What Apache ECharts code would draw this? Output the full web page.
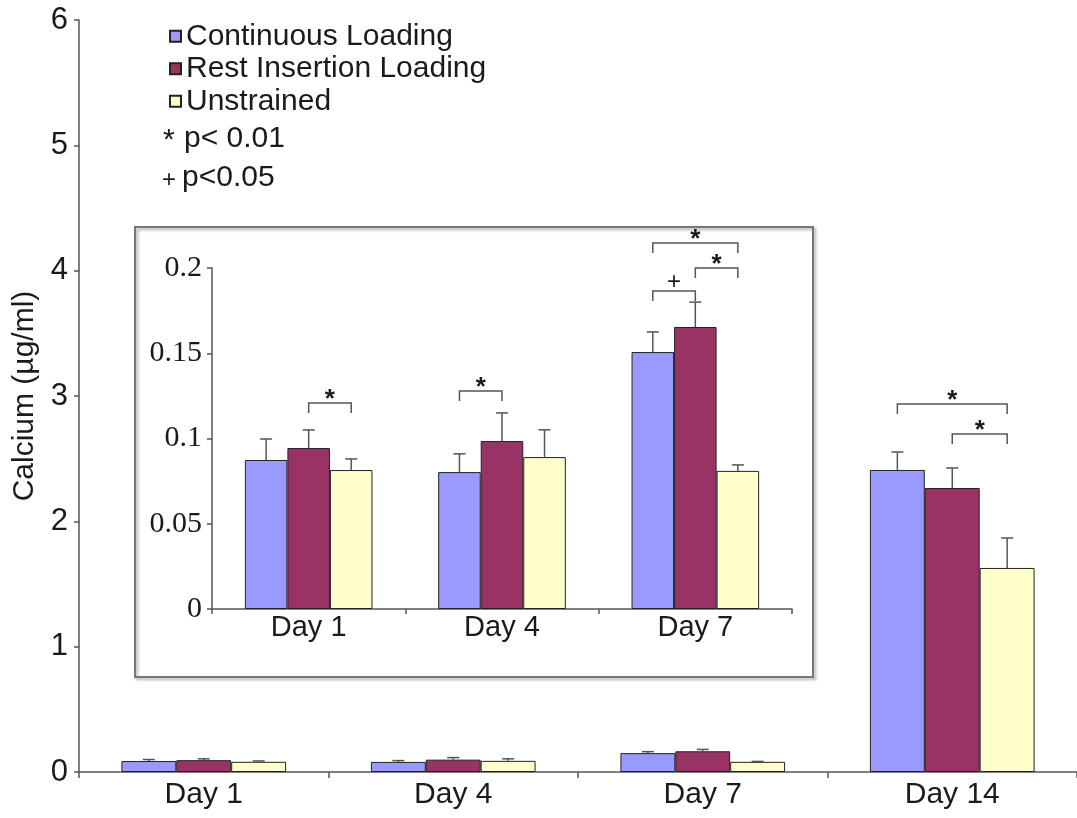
<!DOCTYPE html>
<html><head><meta charset="utf-8">
<script src="https://cdn.jsdelivr.net/npm/echarts@6/dist/echarts.min.js"></script>
<style>html,body{margin:0;padding:0;background:#fff}#c{width:1077px;height:818px}</style>
</head><body><div id="c"></div>
<script>
// ---- data ----
const categories = ['Day 1', 'Day 4', 'Day 7', 'Day 14'];
const insetCategories = ['Day 1', 'Day 4', 'Day 7'];
const seriesNames = ['Continuous Loading', 'Rest Insertion Loading', 'Unstrained'];
const continuousMean = [0.0874, 0.0803, 0.1507, 2.41];
const restMean       = [0.0944, 0.0985, 0.1654, 2.266];
const unstrainedMean = [0.0815, 0.0891, 0.0810, 1.628];
const continuousErr  = [0.0123, 0.0107, 0.0118, 0.143];
const restErr        = [0.0106, 0.0165, 0.0146, 0.160];
const unstrainedErr  = [0.0065, 0.0160, 0.0035, 0.239];
// significance brackets: [category, from series, to series, height]
const mainBrackets = [[3, 0, 2, 2.936], [3, 1, 2, 2.697]];
const mainBracketMarks = ['*', '*'];
const insetBrackets = [[0, 1, 2, 0.1208], [1, 0, 1, 0.1279], [2, 0, 2, 0.2147], [2, 1, 2, 0.2], [2, 0, 1, 0.1865]];
const insetBracketMarks = ['*', '*', '*', '*', '+'];
const legendNotes = ['p< 0.01', 'p<0.05'];
const legendNoteMarks = ['*', '+'];

// ---- chart ----
const means = [continuousMean, restMean, unstrainedMean];
const errs = [continuousErr, restErr, unstrainedErr];
const colors = ['#9999FF', '#993366', '#FFFFCC'];
const GAP = 0.34;
const FONT = 'Liberation Sans';
const txt = '#1a1a1a';
const axisCol = '#555';

function errData(n) {
  const d = [];
  for (let k = 0; k < 3; k++) for (let i = 0; i < n; i++) d.push([i, k, means[k][i], errs[k][i]]);
  return d;
}
function errRender(params, api) {
  const i = api.value(0), k = api.value(1), m = api.value(2), e = api.value(3);
  const bw = api.size([1, 0])[0] * (1 - GAP) / 3;
  const base = api.coord([i, m]);
  const top = api.coord([i, m + e]);
  const x = base[0] + (k - 1) * bw;
  const st = { stroke: axisCol, lineWidth: 1.5 };
  return { type: 'group', children: [
    { type: 'line', shape: { x1: x, y1: base[1], x2: x, y2: top[1] }, style: st },
    { type: 'line', shape: { x1: x - 6, y1: top[1], x2: x + 6, y2: top[1] }, style: st }
  ]};
}
function bracketRender(marks) {
  return function (params, api) {
    const i = api.value(0), k1 = api.value(1), k2 = api.value(2), y = api.value(3);
    const bw = api.size([1, 0])[0] * (1 - GAP) / 3;
    const p = api.coord([i, y]);
    const x1 = p[0] + (k1 - 1) * bw, x2 = p[0] + (k2 - 1) * bw;
    const drop = 10;
    const mark = marks[params.dataIndex];
    const isStar = mark === '*';
    return { type: 'group', children: [
      { type: 'polyline', shape: { points: [[x1, p[1] + drop], [x1, p[1]], [x2, p[1]], [x2, p[1] + drop]] },
        style: { stroke: axisCol, lineWidth: 1.5, fill: 'none' } },
      { type: 'text', x: (x1 + x2) / 2, y: p[1] - (isStar ? 3 : 9),
        style: { text: mark, fontSize: isStar ? 26 : 24, fontFamily: FONT, fontWeight: isStar ? 'bold' : 'normal',
                 fill: txt, align: 'center', verticalAlign: 'middle' } }
    ]};
  };
}

const series = [];
for (let k = 0; k < 3; k++) {
  series.push({ type: 'bar', name: seriesNames[k], xAxisIndex: 0, yAxisIndex: 0, data: means[k],
    barGap: '0%', barCategoryGap: (GAP * 100) + '%',
    itemStyle: { color: colors[k], borderColor: '#222', borderWidth: 1 } });
}
for (let k = 0; k < 3; k++) {
  series.push({ type: 'bar', name: seriesNames[k], xAxisIndex: 1, yAxisIndex: 1, data: means[k].slice(0, 3),
    barGap: '0%', barCategoryGap: (GAP * 100) + '%',
    itemStyle: { color: colors[k], borderColor: '#222', borderWidth: 1 } });
}
series.push({ type: 'custom', xAxisIndex: 0, yAxisIndex: 0, data: errData(4), renderItem: errRender, z: 3, silent: true });
series.push({ type: 'custom', xAxisIndex: 1, yAxisIndex: 1, data: errData(3), renderItem: errRender, z: 3, silent: true });
series.push({ type: 'custom', xAxisIndex: 0, yAxisIndex: 0, data: mainBrackets, renderItem: bracketRender(mainBracketMarks), z: 3, silent: true, clip: false });
series.push({ type: 'custom', xAxisIndex: 1, yAxisIndex: 1, data: insetBrackets, renderItem: bracketRender(insetBracketMarks), z: 3, silent: true, clip: false });

const graphic = [
  { type: 'rect', shape: { x: 135, y: 227, width: 678, height: 450 }, silent: true, z: -1,
    style: { fill: 'none', stroke: '#777', lineWidth: 2, shadowBlur: 3, shadowOffsetX: 2, shadowOffsetY: 2, shadowColor: 'rgba(0,0,0,0.35)' } },
  { type: 'text', x: 163, y: 141, style: { text: legendNoteMarks[0], fontSize: 30, fontFamily: FONT, fill: txt, verticalAlign: 'middle' } },
  { type: 'text', x: 184, y: 139, style: { text: legendNotes[0], fontSize: 30, fontFamily: FONT, fill: txt, verticalAlign: 'middle' } },
  { type: 'text', x: 162, y: 180, style: { text: legendNoteMarks[1], fontSize: 24, fontFamily: FONT, fill: txt, verticalAlign: 'middle' } },
  { type: 'text', x: 182, y: 178, style: { text: legendNotes[1], fontSize: 30, fontFamily: FONT, fill: txt, verticalAlign: 'middle' } }
];

const option = {
  animation: false,
  backgroundColor: '#fff',
  legend: { data: seriesNames, orient: 'vertical', left: 164, top: 15, itemWidth: 11, itemHeight: 11, itemGap: 0,
    icon: 'rect', selectedMode: false,
    textStyle: { fontSize: 30, lineHeight: 32.5, color: txt, fontFamily: FONT } },
  grid: [
    { left: 79, right: 0, top: 20, bottom: 46 },
    { left: 212, right: 285, top: 268, bottom: 209 }
  ],
  xAxis: [
    { type: 'category', gridIndex: 0, data: categories,
      axisLine: { lineStyle: { color: axisCol, width: 1.5 } },
      axisTick: { show: true, length: 6, lineStyle: { color: axisCol, width: 1.5 } },
      axisLabel: { fontSize: 30, fontFamily: FONT, color: txt, margin: 8 } },
    { type: 'category', gridIndex: 1, data: insetCategories,
      axisLine: { lineStyle: { color: axisCol, width: 1.5 } },
      axisTick: { show: true, length: 5, lineStyle: { color: axisCol, width: 1.5 } },
      axisLabel: { fontSize: 29, fontFamily: FONT, color: txt, margin: 4 } }
  ],
  yAxis: [
    { type: 'value', gridIndex: 0, min: 0, max: 6, interval: 1,
      name: 'Calcium (µg/ml)', nameLocation: 'middle', nameGap: 38, nameRotate: 90,
      nameTextStyle: { fontSize: 30, fontFamily: FONT, color: txt },
      axisLine: { show: true, lineStyle: { color: axisCol, width: 1.5 } },
      axisTick: { show: true, length: 5, lineStyle: { color: axisCol, width: 1.5 } },
      splitLine: { show: false },
      axisLabel: { fontSize: 31, fontFamily: FONT, color: txt, margin: 11 } },
    { type: 'value', gridIndex: 1, min: 0, max: 0.2, interval: 0.05,
      axisLine: { show: true, lineStyle: { color: axisCol, width: 1.5 } },
      axisTick: { show: true, length: 5, lineStyle: { color: axisCol, width: 1.5 } },
      splitLine: { show: false },
      axisLabel: { fontSize: 30, fontFamily: 'Liberation Serif', color: txt, margin: 10 } }
  ],
  graphic: graphic,
  series: series
};
const chart = echarts.init(document.getElementById('c'));
chart.setOption(option);
</script>
</body></html>
